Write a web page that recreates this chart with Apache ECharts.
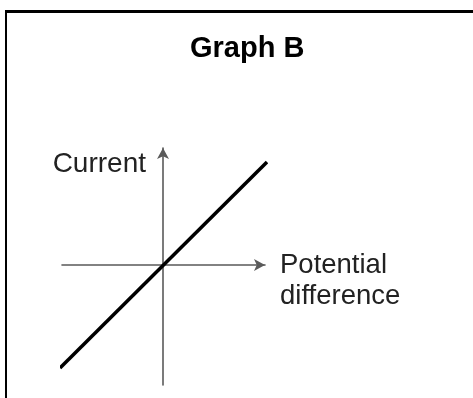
<!DOCTYPE html>
<html>
<head>
<meta charset="utf-8">
<script src="https://cdn.jsdelivr.net/npm/echarts@6/dist/echarts.min.js"></script>
<style>
  html, body { margin:0; padding:0; background:#fff; }
  #chart { width:473px; height:398px; }
  #frame { position:absolute; left:5px; top:10px; width:480px; height:400px;
           border-top:3px solid #000; border-left:2px solid #000; pointer-events:none; }
</style>
</head>
<body>
<div id="chart"></div>
<div id="frame"></div>
<script>
// ====== data (schematic, arbitrary units) ======
const titleText   = 'Graph B';
const xName       = 'Potential\ndifference';
const yName       = 'Current';
const voltage     = [-103, 104];   // 橫軸：電位差
const current     = [-103, 103];   // 縱軸：電流
const xRange      = [-101, 102];
const yRange      = [-120, 117];

const chart = echarts.init(document.getElementById('chart'));

const axisLine = {
  show: true,
  onZero: true,
  symbol: ['none', 'arrow'],
  symbolSize: [9, 11],
  lineStyle: { color: '#5a5a5a', width: 1.6 }
};

chart.setOption({
  animation: false,
  title: {
    text: titleText,
    left: 185, top: 29,
    textStyle: { fontFamily: 'Liberation Sans', fontWeight: 'bold', fontSize: 29, color: '#000' }
  },
  grid: { left: 62, right: 208, top: 148, bottom: 13 },
  xAxis: {
    type: 'value', min: xRange[0], max: xRange[1],
    axisLine, axisTick:{show:false}, axisLabel:{show:false}, splitLine:{show:false},
    // 前面加一個空行，讓第一行對齊橫軸
    name: '\n' + xName, nameLocation: 'end', nameGap: 15,
    nameTextStyle: {
      fontFamily: 'Liberation Sans', fontSize: 27.5, color: '#222',
      align: 'left', verticalAlign: 'middle', lineHeight: 31
    }
  },
  yAxis: {
    type: 'value', min: yRange[0], max: yRange[1],
    axisLine, axisTick:{show:false}, axisLabel:{show:false}, splitLine:{show:false},
    name: yName, nameLocation: 'end', nameGap: -16,
    nameTextStyle: {
      fontFamily: 'Liberation Sans', fontSize: 28, color: '#222',
      align: 'right', verticalAlign: 'middle', padding: [0, 17, 0, 0]
    }
  },
  series: [{
    type: 'line',
    data: voltage.map((v, i) => [v, current[i]]),
    showSymbol: false,
    clip: false,
    lineStyle: { color: '#000', width: 3.5 }
  }]
});
</script>
</body>
</html>
